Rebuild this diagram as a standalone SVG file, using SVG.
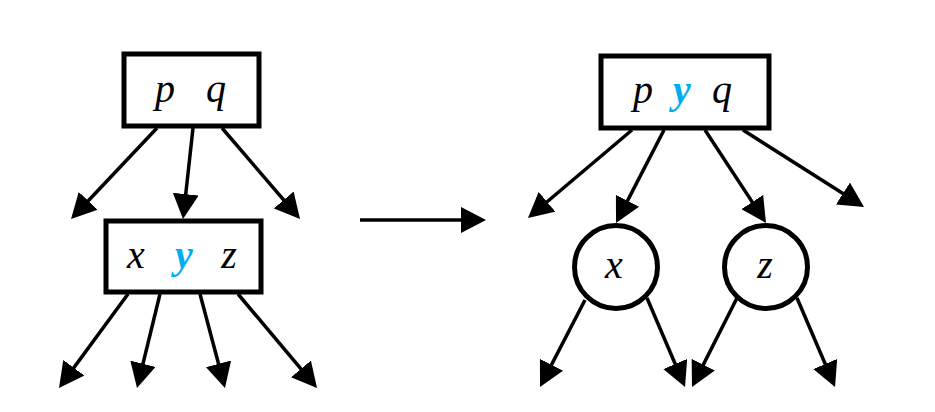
<svg xmlns="http://www.w3.org/2000/svg" width="935" height="412" viewBox="0 0 935 412">
<style>
.box{fill:#fff;stroke:#000;stroke-width:5}
.lbl{font-family:"Liberation Serif","Times New Roman",serif;font-style:italic;font-size:40px;fill:#000;text-anchor:middle}
.hl{fill:#00AEEF;font-weight:bold}
.edge{stroke:#000;stroke-width:3.5;fill:none;marker-end:url(#ah)}
</style>
<defs>
<marker id="ah" markerUnits="userSpaceOnUse" markerWidth="26" markerHeight="26" refX="15" refY="13" orient="auto" viewBox="0 0 26 26">
<path d="M0,0 L25,13 L0,26 z" fill="#000"/>
</marker>
</defs>
<g id="connectors">
<line class="edge" x1="157" y1="128" x2="77.9" y2="211.7"/>
<line class="edge" x1="193" y1="128" x2="184.1" y2="209.1"/>
<line class="edge" x1="222" y1="128" x2="293.5" y2="211.4"/>
<line class="edge" x1="128" y1="294" x2="64.9" y2="379.9"/>
<line class="edge" x1="160" y1="294" x2="139.4" y2="378.3"/>
<line class="edge" x1="200" y1="294" x2="222.4" y2="378.3"/>
<line class="edge" x1="238" y1="294" x2="310.6" y2="380.4"/>
<line class="edge" x1="360" y1="220" x2="476" y2="220"/>
<line class="edge" x1="632" y1="130" x2="535.6" y2="211.5"/>
<line class="edge" x1="664" y1="130" x2="620.6" y2="214.1"/>
<line class="edge" x1="705" y1="130" x2="760.5" y2="214.6"/>
<line class="edge" x1="743" y1="130" x2="855.6" y2="201.6"/>
<line class="edge" x1="585" y1="300" x2="544.6" y2="378.1"/>
<line class="edge" x1="647" y1="298" x2="681.1" y2="377.8"/>
<line class="edge" x1="737" y1="298" x2="696.5" y2="378.1"/>
<line class="edge" x1="797" y1="298" x2="831.1" y2="377.8"/>
</g>
<g id="node-pq">
<rect class="box" x="124" y="54" width="135" height="72"/>
<text class="lbl" x="165" y="102">p</text>
<text class="lbl" x="216" y="102">q</text>
</g>
<g id="node-xyz">
<rect class="box" x="106" y="221" width="155" height="71"/>
<text class="lbl" x="136" y="268">x</text>
<text class="lbl hl" x="184" y="268">y</text>
<text class="lbl" x="229" y="268">z</text>
</g>
<g id="node-pyq">
<rect class="box" x="601" y="56" width="168" height="72"/>
<text class="lbl" x="643" y="103">p</text>
<text class="lbl hl" x="682" y="103">y</text>
<text class="lbl" x="722" y="103">q</text>
</g>
<g id="node-x">
<circle class="box" cx="616" cy="267" r="41.5"/>
<text class="lbl" x="614" y="278">x</text>
</g>
<g id="node-z">
<circle class="box" cx="766" cy="267" r="41.5"/>
<text class="lbl" x="765" y="278">z</text>
</g>
</svg>
